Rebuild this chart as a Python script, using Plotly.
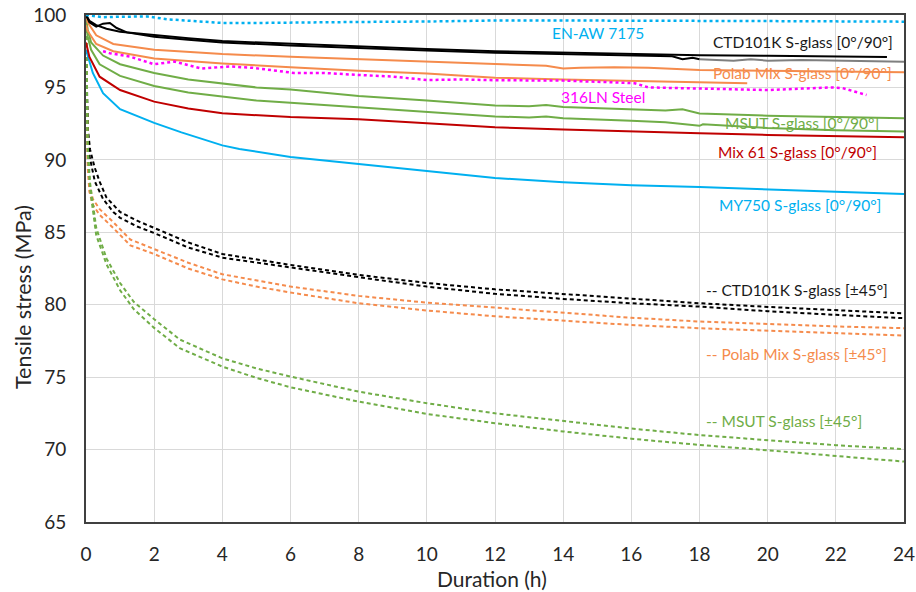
import plotly.graph_objects as go

# ---------------- data (hours, MPa) ----------------
enaw_h = [0, 0.5, 1, 1.8, 2.4, 3, 3.5, 4, 5, 6, 8, 10, 12, 14, 16, 18, 20, 22, 24]
enaw_v = [100, 99.85, 99.88, 99.9, 99.7, 99.6, 99.5, 99.45, 99.45, 99.48, 99.52, 99.55, 99.62, 99.62, 99.62, 99.6, 99.58, 99.56, 99.54]

ctd_a_h = [0, 0.1, 0.3, 0.6, 1, 2, 3, 4, 6, 8, 10, 12, 14, 16, 18, 20, 22, 23.5]
ctd_a_v = [100, 99.6, 99.3, 99.05, 98.85, 98.6, 98.4, 98.2, 98.0, 97.8, 97.65, 97.5, 97.4, 97.3, 97.22, 97.18, 97.12, 97.1]
ctd_b_h = [0, 0.1, 0.3, 0.5, 0.7, 0.9, 1.2, 2, 3, 4, 6, 8, 10, 12, 14, 16, 17.2, 17.5, 17.8, 18]
ctd_b_v = [100, 99.5, 99.2, 99.4, 99.45, 99.1, 98.8, 98.5, 98.3, 98.1, 97.9, 97.7, 97.55, 97.4, 97.3, 97.2, 97.15, 96.95, 97.05, 96.95]
ctd_c_h = [18, 19, 19.5, 20, 21, 22, 23, 24]
ctd_c_v = [96.95, 96.85, 96.95, 96.85, 96.9, 96.85, 96.82, 96.78]

polab_a_h = [0, 0.05, 0.3, 0.8, 2, 4, 6, 8, 10, 12, 13.5, 14, 14.5, 15.5, 16.5, 18, 20, 22, 24]
polab_a_v = [100, 99.5, 98.6, 98.0, 97.6, 97.3, 97.12, 96.94, 96.78, 96.62, 96.5, 96.3, 96.35, 96.4, 96.35, 96.2, 96.15, 96.1, 96.05]
polab_b_h = [0, 0.05, 0.3, 0.8, 2, 4, 6, 8, 10, 12, 14, 16, 18, 19.4]
polab_b_v = [99.3, 98.9, 98.0, 97.5, 97.0, 96.65, 96.4, 96.15, 95.97, 95.67, 95.55, 95.45, 95.35, 95.29]

steel_h = [0.5, 0.7, 1.3, 2, 2.6, 3.4, 4.2, 4.9, 6.1, 7, 8, 9, 10, 11, 12, 14, 15.5, 16.1, 16.5, 18, 20, 21, 21.9, 22.2, 22.9]
steel_v = [97.5, 97.36, 97.12, 96.6, 96.78, 96.3, 96.45, 96.35, 96.0, 96.0, 95.86, 95.75, 95.51, 95.55, 95.5, 95.47, 95.35, 95.29, 95.0, 94.94, 94.82, 94.92, 95.0, 94.95, 94.48]

msut_a_h = [0, 0.05, 0.15, 0.5, 1, 2, 3, 4, 5, 6, 8, 10, 12, 13, 13.5, 14, 15, 16, 17, 17.5, 18, 20, 22, 24]
msut_a_v = [99.8, 99.0, 98.1, 97.2, 96.6, 96.0, 95.55, 95.25, 95.0, 94.85, 94.4, 94.1, 93.75, 93.7, 93.78, 93.65, 93.55, 93.45, 93.4, 93.5, 93.2, 93.05, 92.95, 92.87]
msut_b_h = [0, 0.05, 0.15, 0.4, 1, 2, 3, 4, 5, 6, 8, 10, 12, 13, 13.5, 14, 15, 16, 17, 18, 18.1, 20, 22, 24]
msut_b_v = [99.5, 98.5, 97.6, 96.6, 95.8, 95.1, 94.65, 94.35, 94.1, 93.95, 93.65, 93.35, 93.0, 92.92, 93.0, 92.87, 92.8, 92.7, 92.6, 92.35, 92.45, 92.2, 92.05, 91.95]

mix61_h = [0, 0.05, 0.1, 0.4, 1, 2, 3, 4, 5, 6, 8, 10, 12, 14, 16, 18, 20, 22, 24]
mix61_v = [98.1, 97.6, 97.1, 95.74, 94.82, 94.02, 93.55, 93.22, 93.1, 92.95, 92.8, 92.55, 92.25, 92.1, 91.95, 91.84, 91.72, 91.63, 91.56]

my750_h = [0, 0.1, 0.2, 0.5, 1, 2, 2.8, 4, 4.5, 6, 8, 10, 12, 14, 16, 18, 20, 22, 24]
my750_v = [97.6, 96.8, 96.0, 94.6, 93.5, 92.55, 91.9, 91.0, 90.75, 90.2, 89.7, 89.2, 88.75, 88.45, 88.25, 88.13, 87.95, 87.8, 87.65]

ctd45_a_h = [0, 0.02, 0.06, 0.12, 0.25, 0.4, 0.6, 1.0, 1.5, 2, 3, 4, 5, 6, 8, 10, 12, 14, 16, 18, 20, 22, 24]
ctd45_a_v = [100, 95, 92, 90.7, 89.5, 88.5, 87.4, 86.4, 85.8, 85.3, 84.3, 83.5, 83.1, 82.75, 82.06, 81.5, 81.06, 80.75, 80.4, 80.1, 79.85, 79.6, 79.4]
ctd45_b_h = [0, 0.02, 0.05, 0.1, 0.26, 0.5, 0.8, 1.0, 1.5, 2, 3, 4, 5, 6, 8, 10, 12, 14, 16, 18, 20, 22, 24]
ctd45_b_v = [100, 94, 91.5, 90.3, 88.5, 87.3, 86.4, 86.0, 85.4, 84.95, 83.95, 83.25, 82.9, 82.59, 81.9, 81.25, 80.75, 80.4, 80.1, 79.87, 79.55, 79.3, 79.07]

polab45_a_h = [0, 0.02, 0.05, 0.1, 0.2, 0.4, 0.8, 1.3, 2, 3, 4, 5, 6, 8, 10, 12, 14, 16, 18, 20, 22, 24]
polab45_a_v = [100, 93, 90, 88.2, 87.3, 86.6, 85.7, 84.5, 83.85, 82.9, 82.1, 81.65, 81.25, 80.61, 80.14, 79.8, 79.45, 79.1, 78.84, 78.65, 78.5, 78.38]
polab45_b_h = [0, 0.02, 0.05, 0.1, 0.2, 0.4, 0.8, 1.3, 2, 3, 4, 5, 6, 8, 10, 12, 14, 16, 18, 20, 22, 24]
polab45_b_v = [100, 92.5, 89.5, 87.8, 86.9, 86.2, 85.3, 84.1, 83.5, 82.5, 81.75, 81.25, 80.84, 80.1, 79.6, 79.2, 78.9, 78.6, 78.38, 78.2, 78.0, 77.87]

msut45_a_h = [0, 0.02, 0.05, 0.12, 0.3, 0.6, 1.0, 1.4, 2, 2.75, 4, 5, 6, 8, 10, 12, 14, 16, 18, 20, 22, 24]
msut45_a_v = [100, 94, 91, 88.4, 85.3, 83.2, 81.5, 80.2, 79.0, 77.6, 76.3, 75.6, 75.04, 74.0, 73.2, 72.5, 71.95, 71.45, 71.0, 70.65, 70.3, 70.03]
msut45_b_h = [0, 0.02, 0.05, 0.12, 0.3, 0.6, 1.0, 1.4, 2, 2.75, 4, 5, 6, 8, 10, 12, 14, 16, 18, 20, 22, 24]
msut45_b_v = [100, 93.5, 90.5, 88.0, 84.8, 82.8, 81.0, 79.7, 78.4, 77.0, 75.73, 74.95, 74.3, 73.31, 72.46, 71.82, 71.25, 70.75, 70.32, 69.95, 69.55, 69.17]

x_ticks = [0, 2, 4, 6, 8, 10, 12, 14, 16, 18, 20, 22, 24]
y_ticks = [65, 70, 75, 80, 85, 90, 95, 100]

x_title = "Duration (h)"
y_title = "Tensile stress (MPa)"

# label texts with their anchor values (h, MPa)
label_text = ["EN-AW 7175", "CTD101K S-glass [0°/90°]", "Polab Mix S-glass [0°/90°]", "316LN Steel",
              "MSUT S-glass [0°/90°]", "Mix 61 S-glass [0°/90°]", "MY750 S-glass [0°/90°]",
              "-- CTD101K S-glass [±45°]", "-- Polab Mix S-glass [±45°]", "-- MSUT S-glass [±45°]"]
label_h = [13.6, 18.35, 18.35, 13.87, 18.68, 18.47, 18.5, 18.12, 18.12, 18.12]
label_v = [98.76, 98.14, 96.0, 94.34, 92.54, 90.54, 86.88, 81.02, 76.6, 71.97]

BLACK = "#000000"
ORANGE = "#F58B4C"
GREEN = "#70AD47"
RED = "#C00000"
CYAN = "#00B0F0"
MAGENTA = "#FF00FF"
GRAY = "#7F7F7F"
label_color = [CYAN, "#1a1a1a", ORANGE, MAGENTA, GREEN, RED, CYAN, "#1a1a1a", ORANGE, GREEN]

FONT = "Lato, 'Open Sans', Arial, sans-serif"
TXT = "#262626"

fig = go.Figure()

def add(h, v, color, dash="solid", width=2.0):
    fig.add_trace(go.Scatter(x=h, y=v, mode="lines", showlegend=False, hoverinfo="skip",
                             line=dict(color=color, width=width, dash=dash)))

# dashed ±45° curves
for h, v, c in [(ctd45_a_h, ctd45_a_v, BLACK), (ctd45_b_h, ctd45_b_v, BLACK),
                (polab45_a_h, polab45_a_v, ORANGE), (polab45_b_h, polab45_b_v, ORANGE),
                (msut45_a_h, msut45_a_v, GREEN), (msut45_b_h, msut45_b_v, GREEN)]:
    add(h, v, c, "4px,3px", 2)

# solid 0/90 curves
add(my750_h, my750_v, CYAN)
add(mix61_h, mix61_v, RED)
add(msut_a_h, msut_a_v, GREEN)
add(msut_b_h, msut_b_v, GREEN)
add(polab_b_h, polab_b_v, ORANGE)
add(polab_a_h, polab_a_v, ORANGE)
add(ctd_c_h, ctd_c_v, GRAY)
add(ctd_b_h, ctd_b_v, BLACK)
add(ctd_a_h, ctd_a_v, BLACK)

# dotted metals
add(steel_h, steel_v, MAGENTA, "dot", 2.5)
add(enaw_h, enaw_v, CYAN, "dot", 2.5)

for t, h, v, c in zip(label_text, label_h, label_v, label_color):
    fig.add_annotation(x=h, y=v, text=t, showarrow=False, xanchor="left", yanchor="middle",
                       font=dict(family=FONT, size=15.5, color=c))

# axis titles
fig.add_annotation(xref="paper", yref="paper", x=0.4963, y=-0.1124, text=x_title, showarrow=False,
                   xanchor="center", yanchor="middle", font=dict(family=FONT, size=21, color=TXT))
fig.add_annotation(xref="paper", yref="paper", x=-0.077, y=0.4438, text=y_title, showarrow=False,
                   textangle=-90, xanchor="center", yanchor="middle", font=dict(family=FONT, size=21.5, color=TXT))

fig.update_layout(
    width=916, height=592,
    margin=dict(l=86, r=12, t=15, b=70, autoexpand=False),
    paper_bgcolor="white", plot_bgcolor="white",
    font=dict(family=FONT, color=TXT),
)
axis_common = dict(showgrid=True, gridcolor="#D9D9D9", gridwidth=1.3,
                   showline=True, linecolor="#404040", linewidth=1.6, mirror=True,
                   ticks="", tickfont=dict(size=19, family=FONT, color=TXT),
                   zeroline=False, automargin=False)
fig.update_xaxes(range=[0, 24], tickvals=x_ticks, ticktext=[str(t) for t in x_ticks],
                 ticklabelstandoff=14, **axis_common)
fig.update_yaxes(range=[65, 100], tickvals=y_ticks, ticktext=[str(t) for t in y_ticks],
                 ticklabelstandoff=14, **axis_common)

fig.write_html("out.html", config={"displayModeBar": False},
               post_script="document.body.style.margin='0';document.body.style.overflow='hidden';")
